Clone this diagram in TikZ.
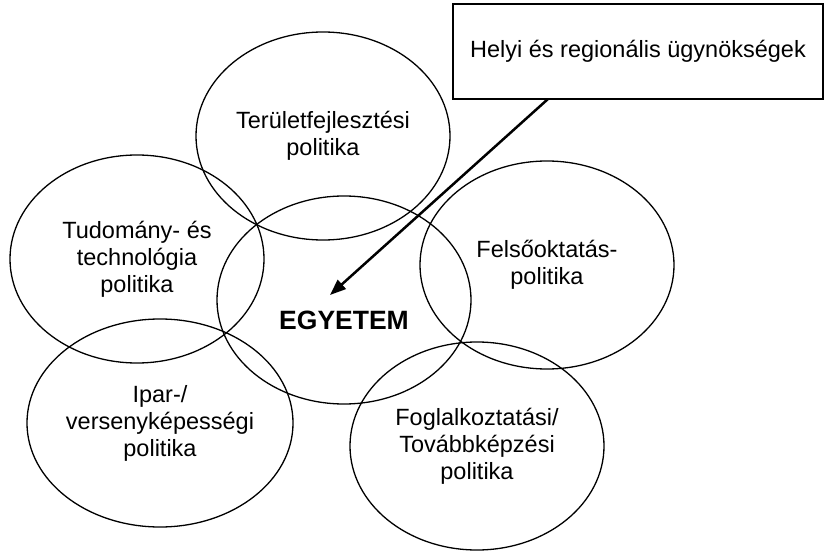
\documentclass[tikz,border=0pt]{standalone}
\usepackage{fontspec}
\setmainfont{Liberation Sans}
\usetikzlibrary{shapes.geometric,arrows.meta}
\begin{document}
\begin{tikzpicture}[x=1pt,y=-1pt,
  policy/.style={ellipse,draw=black,line width=1.3pt,minimum width=254pt,minimum height=208pt,
    inner sep=0pt,align=center,font=\fontsize{23.5}{27}\selectfont},
  agency/.style={rectangle,draw=black,line width=1.4pt,minimum width=370pt,minimum height=95pt,
    inner sep=0pt,font=\fontsize{23.5}{27}\selectfont},
  core/.style={font=\fontsize{26.5}{30}\selectfont\bfseries},
  link/.style={line width=2.5pt,-{Triangle[length=16pt,width=12pt]}}]
\useasboundingbox[fill=white] (0,0) rectangle (825,551);

% policy areas around the university
\node[policy] (terulet) at (323,136) {Területfejlesztési\\politika};
\node[policy] (tudomany) at (137,259) {Tudomány- és\\technológia\\politika};
\node[policy] (egyetem) at (344,300) {};
\node[policy] (felso) at (547,265) {Felsőoktatás-\\politika};
\node[policy] (ipar) at (160,423) {Ipar-/\\versenyképességi\\politika};
\node[policy] (fogl) at (477,446) {Foglalkoztatási/\\Továbbképzési\\politika};
\node[core] (egyetemtxt) at (344,320.5) {EGYETEM};

% regional agencies box and its arrow
\node[agency] (helyi) at (638,51.5) {Helyi és regionális ügynökségek};
\coordinate (src) at (548,99);
\coordinate (tip) at (330,295);
\draw[link] (src) -- (tip);
\end{tikzpicture}
\end{document}
